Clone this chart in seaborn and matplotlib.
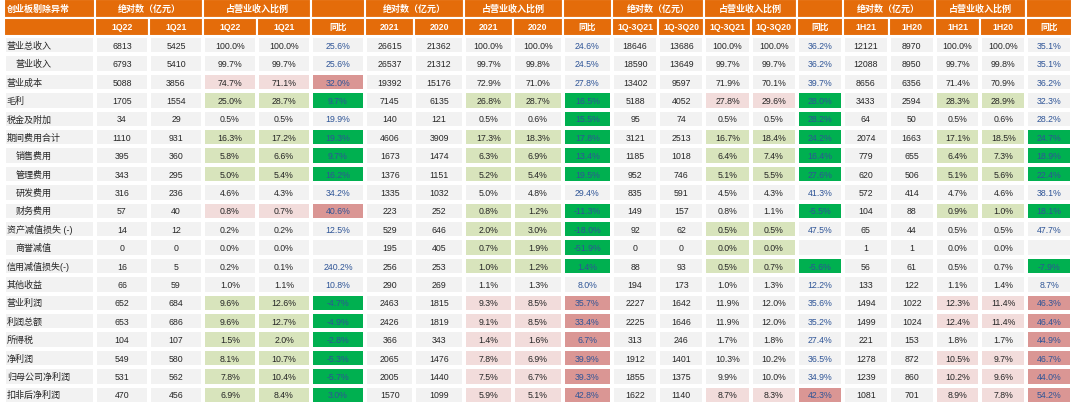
import numpy as np
import matplotlib
matplotlib.use("Agg")
import matplotlib.pyplot as plt
from matplotlib.colors import ListedColormap
import seaborn as sns

sns.set_style("white")
plt.rcParams['font.family'] = ['Liberation Sans', 'Noto Sans CJK SC', 'DejaVu Sans']

# row labels
rows = ['营业总收入', '营业收入', '营业成本', '毛利', '税金及附加', '期间费用合计', '销售费用', '管理费用',
        '研发费用', '财务费用', '资产减值损失 (-)', '商誉减值', '信用减值损失(-)', '其他收益', '营业利润',
        '利润总额', '所得税', '净利润', '归母公司净利润', '扣非后净利润']
indented = ['营业收入', '销售费用', '管理费用', '研发费用', '财务费用', '商誉减值']

# 1Q22 vs 1Q21
q_periods = ['1Q22', '1Q21']
q_abs1 = [6813, 6793, 5088, 1705, 34, 1110, 395, 343, 316, 57, 14, 0, 16, 66, 652, 653, 104, 549, 531, 470]
q_abs2 = [5425, 5410, 3856, 1554, 29, 931, 360, 295, 236, 40, 12, 0, 5, 59, 684, 686, 107, 580, 562, 456]
q_pct1 = [100.0, 99.7, 74.7, 25.0, 0.5, 16.3, 5.8, 5.0, 4.6, 0.8, 0.2, 0.0, 0.2, 1.0, 9.6, 9.6, 1.5, 8.1, 7.8, 6.9]
q_pct2 = [100.0, 99.7, 71.1, 28.7, 0.5, 17.2, 6.6, 5.4, 4.3, 0.7, 0.2, 0.0, 0.1, 1.1, 12.6, 12.7, 2.0, 10.7, 10.4, 8.4]
q_yoy = [25.6, 25.6, 32.0, 9.7, 19.9, 19.3, 9.7, 16.2, 34.2, 40.6, 12.5, None, 240.2, 10.8, -4.7, -4.9, -2.8, -5.3, -5.7, 3.0]
q_pct_shade = "..pg.ggg.p....gggggg"
q_yoy_shade = "..PG.GGG.P....GGGGGG"

# 2021 vs 2020
y_periods = ['2021', '2020']
y_abs1 = [26615, 26537, 19392, 7145, 140, 4606, 1673, 1376, 1335, 223, 529, 195, 256, 290, 2463, 2426, 366, 2065, 2005, 1570]
y_abs2 = [21362, 21312, 15176, 6135, 121, 3909, 1474, 1151, 1032, 252, 646, 405, 253, 269, 1815, 1819, 343, 1476, 1440, 1099]
y_pct1 = [100.0, 99.7, 72.9, 26.8, 0.5, 17.3, 6.3, 5.2, 5.0, 0.8, 2.0, 0.7, 1.0, 1.1, 9.3, 9.1, 1.4, 7.8, 7.5, 5.9]
y_pct2 = [100.0, 99.8, 71.0, 28.7, 0.6, 18.3, 6.9, 5.4, 4.8, 1.2, 3.0, 1.9, 1.2, 1.3, 8.5, 8.5, 1.6, 6.9, 6.7, 5.1]
y_yoy = [24.6, 24.5, 27.8, 16.5, 15.5, 17.8, 13.4, 19.5, 29.4, -11.3, -18.0, -51.9, 1.4, 8.0, 35.7, 33.4, 6.7, 39.9, 39.3, 42.8]
y_pct_shade = "...g.ggg.gggg.pppppp"
y_yoy_shade = "...GGGGG.GGGG.PPPPPP"

# 1Q-3Q21 vs 1Q-3Q20
t_periods = ['1Q-3Q21', '1Q-3Q20']
t_abs1 = [18646, 18590, 13402, 5188, 95, 3121, 1185, 952, 835, 149, 92, 0, 88, 194, 2227, 2225, 313, 1912, 1855, 1622]
t_abs2 = [13686, 13649, 9597, 4052, 74, 2513, 1018, 746, 591, 157, 62, 0, 93, 173, 1642, 1646, 246, 1401, 1375, 1140]
t_pct1 = [100.0, 99.7, 71.9, 27.8, 0.5, 16.7, 6.4, 5.1, 4.5, 0.8, 0.5, 0.0, 0.5, 1.0, 11.9, 11.9, 1.7, 10.3, 9.9, 8.7]
t_pct2 = [100.0, 99.7, 70.1, 29.6, 0.5, 18.4, 7.4, 5.5, 4.3, 1.1, 0.5, 0.0, 0.7, 1.3, 12.0, 12.0, 1.8, 10.2, 10.0, 8.3]
t_yoy = [36.2, 36.2, 39.7, 28.0, 28.2, 24.2, 16.4, 27.6, 41.3, -5.5, 47.5, None, -5.6, 12.2, 35.6, 35.2, 27.4, 36.5, 34.9, 42.3]
t_pct_shade = "...p.ggg..ggg......p"
t_yoy_shade = "...GGGGG.G..G......P"

# 1H21 vs 1H20
h_periods = ['1H21', '1H20']
h_abs1 = [12121, 12088, 8656, 3433, 64, 2074, 779, 620, 572, 104, 65, 1, 56, 133, 1494, 1499, 221, 1278, 1239, 1081]
h_abs2 = [8970, 8950, 6356, 2594, 50, 1663, 655, 506, 414, 88, 44, 1, 61, 122, 1022, 1024, 153, 872, 860, 701]
h_pct1 = [100.0, 99.7, 71.4, 28.3, 0.5, 17.1, 6.4, 5.1, 4.7, 0.9, 0.5, 0.0, 0.5, 1.1, 12.3, 12.4, 1.8, 10.5, 10.2, 8.9]
h_pct2 = [100.0, 99.8, 70.9, 28.9, 0.6, 18.5, 7.3, 5.6, 4.6, 1.0, 0.5, 0.0, 0.7, 1.4, 11.4, 11.4, 1.7, 9.7, 9.6, 7.8]
h_yoy = [35.1, 35.1, 36.2, 32.3, 28.2, 24.7, 18.9, 22.4, 38.1, 18.1, 47.7, None, -7.9, 8.7, 46.3, 46.4, 44.9, 46.7, 44.0, 54.2]
h_pct_shade = "...g.ggg.g....pp.ppp"
h_yoy_shade = ".....GGG.G..G.PPPPPP"

ORANGE = '#E46C0A'
GRAY = '#F2F2F2'
shade_colors = [GRAY, '#D8E4BC', '#00B050', '#F2DCDB', '#DA9694']
shade_code = {'.': 0, 'g': 1, 'G': 2, 'p': 3, 'P': 4}
cmap = ListedColormap(shade_colors)
TXT = '#262626'
BLUE = '#2F5597'
LW = 1.5

W, H = 1080, 410
HEAD_Y0, HEAD_Y1, BODY_Y1 = 0, 37, 405


def rect(x0, x1, y0, y1):
    return [x0 / W, 1 - y1 / H, (x1 - x0) / W, (y1 - y0) / H]


fig = plt.figure(figsize=(W / 100, H / 100), dpi=100)

# label column
ax = fig.add_axes(rect(4, 95, HEAD_Y0, HEAD_Y1))
ax.barh([0.5, 1.5], [1, 1], height=1, left=0, color=ORANGE, edgecolor='white', linewidth=LW)
ax.set_xlim(0, 1)
ax.set_ylim(2, 0)
ax.axis('off')
ax.text(0.03, 0.5, '创业板剔除异常', color='white', fontsize=6.5, fontweight='bold', va='center', ha='left')

ax = fig.add_axes(rect(4, 95, HEAD_Y1, BODY_Y1))
sns.heatmap(np.zeros((len(rows), 1)), cmap=ListedColormap([GRAY]), cbar=False, linewidths=LW,
            linecolor='white', xticklabels=False, yticklabels=False, ax=ax)
for i, r in enumerate(rows):
    x = 0.13 if r in indented else 0.03
    ax.text(x, i + 0.5, r, color=TXT, fontsize=6.5, va='center', ha='left')
ax.axis('off')

blocks = [
    (95, 365, q_periods, q_abs1, q_abs2, q_pct1, q_pct2, q_yoy, q_pct_shade, q_yoy_shade),
    (365, 612, y_periods, y_abs1, y_abs2, y_pct1, y_pct2, y_yoy, y_pct_shade, y_yoy_shade),
    (612, 843, t_periods, t_abs1, t_abs2, t_pct1, t_pct2, t_yoy, t_pct_shade, t_yoy_shade),
    (843, 1072, h_periods, h_abs1, h_abs2, h_pct1, h_pct2, h_yoy, h_pct_shade, h_yoy_shade),
]

for x0, x1, periods, a1, a2, p1, p2, yoy, pshade, yshade in blocks:
    # header: merged top row + column names
    hax = fig.add_axes(rect(x0, x1, HEAD_Y0, HEAD_Y1))
    hax.barh([0.5, 0.5, 0.5], [2, 2, 1], left=[0, 2, 4], height=1, color=ORANGE,
             edgecolor='white', linewidth=LW)
    hax.barh([1.5] * 5, [1] * 5, left=[0, 1, 2, 3, 4], height=1, color=ORANGE,
             edgecolor='white', linewidth=LW)
    hax.set_xlim(0, 5)
    hax.set_ylim(2, 0)
    hax.axis('off')
    for xc, t in [(1, '绝对数（亿元）'), (3, '占营业收入比例')]:
        hax.text(xc, 0.5, t, color='white', fontsize=6.5, fontweight='bold', ha='center', va='center')
    for j, t in enumerate(periods + periods + ['同比']):
        hax.text(j + 0.5, 1.5, t, color='white', fontsize=6.3, fontweight='bold', ha='center', va='center')

    # body
    codes = np.zeros((len(rows), 5), dtype=int)
    codes[:, 2] = [shade_code[c] for c in pshade]
    codes[:, 3] = codes[:, 2]
    codes[:, 4] = [shade_code[c] for c in yshade]
    annot = np.array([[f'{a1[i]}', f'{a2[i]}', f'{p1[i]:.1f}%', f'{p2[i]:.1f}%',
                       '' if yoy[i] is None else f'{yoy[i]:.1f}%'] for i in range(len(rows))])
    bax = fig.add_axes(rect(x0, x1, HEAD_Y1, BODY_Y1))
    sns.heatmap(codes, cmap=cmap, vmin=-0.5, vmax=4.5, cbar=False, linewidths=LW, linecolor='white',
                annot=annot, fmt='', annot_kws={'fontsize': 6.3}, xticklabels=False,
                yticklabels=False, ax=bax)
    for k, t in enumerate(bax.texts):
        t.set_color(BLUE if k % 5 == 4 else TXT)
    bax.axis('off')

fig.savefig('out.png', dpi=100, facecolor='white')
